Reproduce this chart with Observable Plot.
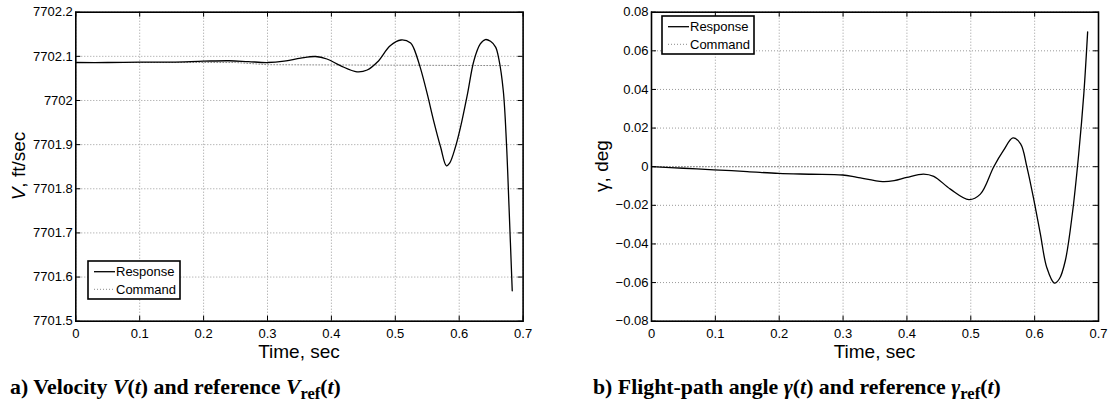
<!DOCTYPE html>
<html><head><meta charset="utf-8">
<script src="https://cdn.jsdelivr.net/npm/d3@7"></script>
<script src="https://cdn.jsdelivr.net/npm/@observablehq/plot@0.6"></script>
<style>
body{margin:0;background:#fff;}
#wrap{position:relative;width:1108px;height:402px;overflow:hidden;background:#fff;}
.chart{position:absolute;top:0;}
#overlay{position:absolute;left:0;top:0;}
</style>
</head><body>
<div id="wrap"></div>
<script>
// ---- data ----
const xTicks = [0, 0.1, 0.2, 0.3, 0.4, 0.5, 0.6, 0.7];
const vTicks = [7701.5, 7701.6, 7701.7, 7701.8, 7701.9, 7702.0, 7702.1, 7702.2];
const gTicks = [-0.08, -0.06, -0.04, -0.02, 0, 0.02, 0.04, 0.06, 0.08];

const timeV = [0, 0.05, 0.1, 0.15, 0.2, 0.24, 0.27, 0.3, 0.326, 0.352, 0.375, 0.393, 0.414, 0.44, 0.456, 0.472, 0.492, 0.509, 0.524, 0.529, 0.539, 0.55, 0.56, 0.571, 0.58, 0.585, 0.594, 0.602, 0.613, 0.623, 0.633, 0.641, 0.649, 0.657, 0.662, 0.669, 0.674, 0.678, 0.683];
const velocity = [7702.086, 7702.086, 7702.087, 7702.087, 7702.089, 7702.090, 7702.088, 7702.086, 7702.089, 7702.096, 7702.0996, 7702.094, 7702.079, 7702.065, 7702.069, 7702.087, 7702.124, 7702.137, 7702.130, 7702.118, 7702.075, 7702.015, 7701.954, 7701.894, 7701.852, 7701.858, 7701.894, 7701.939, 7702.015, 7702.090, 7702.128, 7702.138, 7702.134, 7702.121, 7702.094, 7702.022, 7701.902, 7701.758, 7701.569];

const timeVCmd = [0, 0.25, 0.3, 0.68];
const velocityCmd = [7702.086, 7702.086, 7702.081, 7702.079];

const timeG = [0, 0.05, 0.0975, 0.15, 0.199, 0.25, 0.299, 0.322, 0.362, 0.38, 0.4, 0.426, 0.442, 0.468, 0.497, 0.515, 0.536, 0.551, 0.566, 0.578, 0.588, 0.599, 0.609, 0.619, 0.631, 0.639, 0.648, 0.659, 0.669, 0.677, 0.683];
const gamma = [0, -0.0008, -0.0016, -0.0025, -0.0035, -0.0039, -0.0043, -0.0055, -0.0077, -0.0072, -0.0055, -0.0038, -0.0050, -0.0116, -0.0170, -0.0142, 0.0, 0.0083, 0.0149, 0.0118, -0.0003, -0.0176, -0.0349, -0.0522, -0.0603, -0.0579, -0.0487, -0.0245, 0.0066, 0.0377, 0.0698];

const timeGCmd = [0, 0.683];
const gammaCmd = [0, 0];

// ---- helpers ----
const rows = (xs, ys) => xs.map((t, i) => ({t, v: ys[i]}));
const fmtX = d => d === 0 ? "0" : d.toFixed(1);
const fmtV = d => String(+d.toFixed(1));
const fmtG = d => Math.abs(d) < 1e-9 ? "0" : (d < 0 ? "\u2212" : "") + Math.abs(d).toFixed(2);

const W = 554, H = 360, MT = 11.7, MB = 39.3;
const gridStyle = {stroke: "#9a9a9a", strokeOpacity: 1, strokeWidth: 1, strokeDasharray: "1,2"};

function makeChart({ml, mr, yDomain, yTicks, yFmt, resp, cmd}) {
  const iw = W - ml - mr, ih = H - MT - MB, tk = 5;
  return Plot.plot({
    width: W, height: H,
    marginLeft: ml, marginRight: mr, marginTop: MT, marginBottom: MB,
    x: {domain: [0, 0.7], label: null},
    y: {domain: yDomain, label: null},
    style: {fontFamily: "'Liberation Sans', Arial, sans-serif", fontSize: "13px", color: "black", background: "white", overflow: "visible"},
    marks: [
      Plot.gridX(xTicks, gridStyle),
      Plot.gridY(yTicks, gridStyle),
      Plot.line(cmd, {x: "t", y: "v", stroke: "#8a8a8a", strokeWidth: 1, strokeDasharray: "1,2"}),
      Plot.line(resp, {x: "t", y: "v", stroke: "black", strokeWidth: 1.3, curve: "catmull-rom"}),
      Plot.tickX(xTicks, {x: d => d, insetTop: ih - tk, stroke: "black"}),
      Plot.tickX(xTicks, {x: d => d, insetBottom: ih - tk, stroke: "black"}),
      Plot.tickY(yTicks, {y: d => d, insetRight: iw - tk, stroke: "black"}),
      Plot.tickY(yTicks, {y: d => d, insetLeft: iw - tk, stroke: "black"}),
      Plot.frame({stroke: "black", strokeWidth: 1.6}),
      Plot.axisX(xTicks, {tickSize: 0, tickPadding: 8, tickFormat: fmtX, label: null, fontSize: 13, fill: "black"}),
      Plot.axisY(yTicks, {tickSize: 0, tickPadding: 3, tickFormat: yFmt, label: null, fontSize: 13, fill: "black"})
    ]
  });
}

const wrap = document.getElementById("wrap");
const left = makeChart({ml: 75.3, mr: 31.4, yDomain: [7701.5, 7702.2], yTicks: vTicks, yFmt: fmtV,
  resp: rows(timeV, velocity), cmd: rows(timeVCmd, velocityCmd)});
left.classList.add("chart"); left.style.left = "0px";
const right = makeChart({ml: 97, mr: 10, yDomain: [-0.08, 0.08], yTicks: gTicks, yFmt: fmtG,
  resp: rows(timeG, gamma), cmd: rows(timeGCmd, gammaCmd)});
right.classList.add("chart"); right.style.left = "554px";
wrap.appendChild(left); wrap.appendChild(right);

// ---- overlay: axis titles, legends, captions ----
const ov = d3.select(wrap).append("svg").attr("id", "overlay")
  .attr("width", 1108).attr("height", 402)
  .style("font-family", "'Liberation Sans', Arial, sans-serif");

ov.append("text").attr("x", 299).attr("y", 357.5).attr("text-anchor", "middle").attr("font-size", 19).text("Time, sec");
ov.append("text").attr("x", 874.5).attr("y", 357.5).attr("text-anchor", "middle").attr("font-size", 19).text("Time, sec");

const yl1 = ov.append("text").attr("transform", "translate(25,166) rotate(-90)").attr("text-anchor", "middle").attr("font-size", 19);
yl1.append("tspan").attr("font-style", "italic").text("V");
yl1.append("tspan").text(", ft/sec");
ov.append("text").attr("transform", "translate(608,166) rotate(-90)").attr("text-anchor", "middle").attr("font-size", 19).text("\u03b3, deg");

function legend(x, y) {
  const g = ov.append("g");
  g.append("rect").attr("x", x).attr("y", y).attr("width", 92).attr("height", 38)
    .attr("fill", "white").attr("stroke", "black").attr("stroke-width", 1.6);
  g.append("line").attr("x1", x + 6).attr("x2", x + 27).attr("y1", y + 10.7).attr("y2", y + 10.7)
    .attr("stroke", "black").attr("stroke-width", 1.3);
  g.append("line").attr("x1", x + 6).attr("x2", x + 27).attr("y1", y + 28.3).attr("y2", y + 28.3)
    .attr("stroke", "#8a8a8a").attr("stroke-width", 1).attr("stroke-dasharray", "1,2");
  g.append("text").attr("x", x + 28).attr("y", y + 15.3).attr("font-size", 13).text("Response");
  g.append("text").attr("x", x + 28).attr("y", y + 32.9).attr("font-size", 13).text("Command");
}
legend(88, 261);
legend(662, 16);

function caption(x, y, parts) {
  const t = ov.append("text").attr("x", x).attr("y", y)
    .attr("font-family", "'Liberation Serif', 'Times New Roman', serif")
    .attr("font-weight", "bold").attr("font-size", 21.8);
  let shifted = false;
  for (const p of parts) {
    const s = t.append("tspan").text(p.s);
    if (p.i) s.attr("font-style", "italic");
    if (p.sub) { s.attr("font-size", 16.5).attr("dy", 5); shifted = true; }
    else if (shifted) { s.attr("dy", -5); shifted = false; }
  }
}
caption(10, 394, [
  {s: "a) Velocity "}, {s: "V", i: 1}, {s: "("}, {s: "t", i: 1}, {s: ") and reference "},
  {s: "V", i: 1}, {s: "ref", sub: 1}, {s: "("}, {s: "t", i: 1}, {s: ")"}
]);
caption(593, 394, [
  {s: "b) Flight-path angle "}, {s: "\u03b3", i: 1}, {s: "("}, {s: "t", i: 1}, {s: ") and reference "},
  {s: "\u03b3", i: 1}, {s: "ref", sub: 1}, {s: "("}, {s: "t", i: 1}, {s: ")"}
]);
</script>
</body></html>
